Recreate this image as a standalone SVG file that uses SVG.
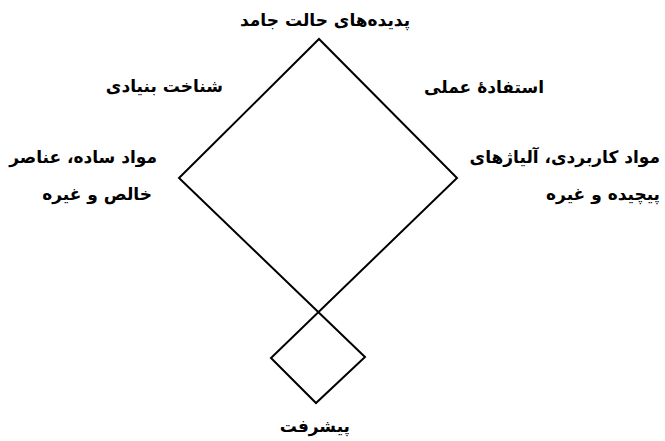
<svg xmlns="http://www.w3.org/2000/svg" width="665" height="441" viewBox="0 0 665 441">
<style>
text{font-family:"DejaVu Sans","Noto Sans",sans-serif;font-size:17px;font-weight:bold;fill:#000;direction:rtl;}
.ln{fill:none;stroke:#000;stroke-width:2;stroke-linejoin:miter;}
</style>
<rect width="665" height="441" fill="#fff"/>
<g id="connectors">
<path class="ln" d="M365,357 L179,178 L319,39 L457,178 L271,358 L316,403 Z"/>
</g>
<g id="top"><text x="240" y="26" text-anchor="end">پدیده‌های حالت جامد</text></g>
<g id="fundamental"><text x="223" y="92" text-anchor="start">شناخت بنیادی</text></g>
<g id="practical"><text x="544" y="93" text-anchor="start">استفادهٔ عملی</text></g>
<g id="simple"><text x="157" y="163" text-anchor="start">مواد ساده، عناصر</text><text x="152" y="200" text-anchor="start">خالص و غیره</text></g>
<g id="applied"><text x="660" y="163" text-anchor="start">مواد کاربردی، آلیاژهای</text><text x="660" y="200" text-anchor="start">پیچیده و غیره</text></g>
<g id="progress"><text x="350" y="432" text-anchor="start">پیشرفت</text></g>
</svg>
